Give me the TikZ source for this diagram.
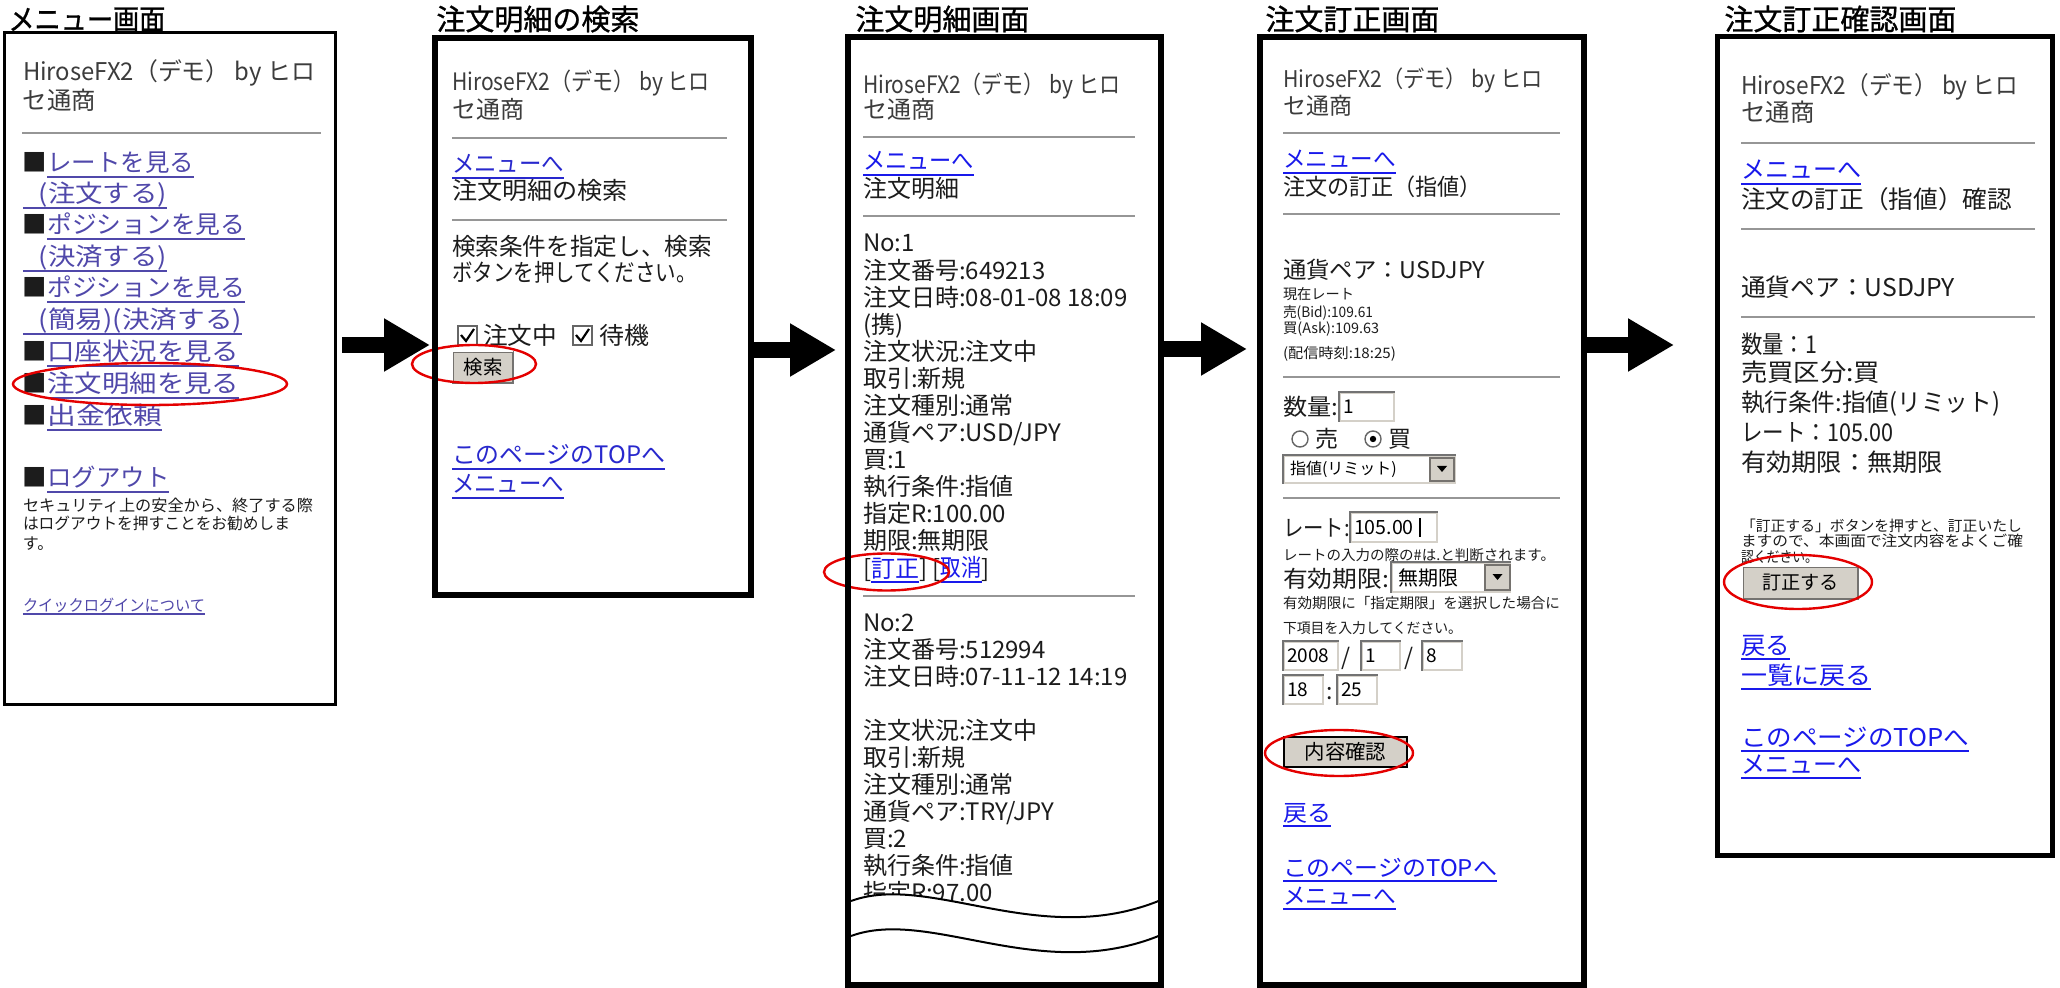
\documentclass[tikz,border=0pt]{standalone}
\usepackage{fontspec}
\setmainfont{Noto Sans CJK JP}
\newfontfamily\ttlfont{Noto Sans CJK JP}[FakeBold=1]
\usepackage{graphicx}
\usetikzlibrary{arrows.meta}
\definecolor{txt}{RGB}{28,28,28}
\definecolor{hdr}{RGB}{60,60,60}
\definecolor{lnkv}{RGB}{80,72,170}
\definecolor{lnk}{RGB}{25,25,235}
\definecolor{lnkb}{RGB}{40,40,205}
\definecolor{hrc}{RGB}{150,150,150}
\definecolor{btnc}{RGB}{212,208,200}
\definecolor{ovlc}{RGB}{228,0,0}
\newcommand\fw[2]{\resizebox{#1}{\height}{#2}}
\newcommand\lk[3]{{\color{#1}\rlap{\rule[-0.24em]{#2}{1pt}}\resizebox{#2}{\height}{#3}}}
\tikzset{
 tx/.style={anchor=base west, inner sep=0pt, outer sep=0pt, text=txt},
 ttl/.style={anchor=base west, inner sep=0pt, text=black, font=\ttlfont\fontsize{14.5pt}{16pt}\selectfont},
 fa/.style={font=\fontsize{12.2pt}{14pt}\selectfont},
 fas/.style={font=\fontsize{8pt}{9pt}\selectfont},
 fb/.style={font=\fontsize{12pt}{14pt}\selectfont},
 fc/.style={font=\fontsize{11.5pt}{13pt}\selectfont},
 fcs/.style={font=\fontsize{7.2pt}{8pt}\selectfont},
 fd/.style={font=\fontsize{12.25pt}{14pt}\selectfont},
 fds/.style={font=\fontsize{7.4pt}{8pt}\selectfont},
 hr/.style={draw=hrc, line width=1.25pt},
 ovl/.style={draw=ovlc, line width=1.2pt},
 panel/.style={draw=black, inner sep=0pt, outer sep=0pt},
 blk/.style={draw=black, line width=8pt, -{Triangle[length=23pt,width=25pt]}},
 btn/.style={fill=btnc, draw=btnc!55!black, line width=0.6pt, inner sep=0pt, text=black},
 inp/.style={fill=white, draw=btnc, line width=0.8pt, inner xsep=1.5pt, inner ysep=0pt, align=left, text=black, font=\fontsize{9.5pt}{10pt}\selectfont},
 bev/.style={draw=gray!90!black, line width=0.8pt},
 lite/.style={draw=white, line width=0.8pt},
 cbx/.style={draw=gray!80!black, fill=white, minimum size=9.5pt, inner sep=0pt, line width=0.8pt},
 radio/.style={circle, draw=gray!80!black, fill=white, minimum size=8pt, inner sep=0pt, line width=0.7pt},
 wv/.style={draw=black, line width=1pt},
}
\begin{document}
\begin{tikzpicture}[x=0.5pt,y=-0.5pt]
\useasboundingbox (0,0) rectangle (2060,988);
\fill[white] (0,0) rectangle (2060,988);

% ---------- titles
\node[ttl] (t1) at (8,30) {\fw{78.5pt}{メニュー画面}};
\node[ttl] (t2) at (436,30) {注文明細の検索};
\node[ttl] (t3) at (855,30) {注文明細画面};
\node[ttl] (t4) at (1265,30) {注文訂正画面};
\node[ttl] (t5) at (1724,30) {注文訂正確認画面};

% ---------- panel 1
\node[tx,fa,text=hdr] (p1h1) at (23,81) {\fw{146pt}{HiroseFX2（デモ） by ヒロ}};
\node[tx,fa,text=hdr] (p1h2) at (23,110) {セ通商};
\draw[hr] (22,133) -- (321,133);
\node[tx,fa] (p1m1) at (23,172) {■\lk{lnkv}{73.5pt}{レートを見る}};
\node[tx,fa] (p1m2) at (23,203) {\lk{lnkv}{72pt}{\hspace{7pt}(注文する)}};
\node[tx,fa] (p1m3) at (23,234) {■\lk{lnkv}{99pt}{ポジションを見る}};
\node[tx,fa] (p1m4) at (23,266) {\lk{lnkv}{72pt}{\hspace{7pt}(決済する)}};
\node[tx,fa] (p1m5) at (23,297) {■\lk{lnkv}{99pt}{ポジションを見る}};
\node[tx,fa] (p1m6) at (23,329) {\lk{lnkv}{109.5pt}{\hspace{7pt}(簡易)(決済する)}};
\node[tx,fa] (p1m7) at (23,361) {■\lk{lnkv}{96pt}{口座状況を見る}};
\node[tx,fa] (p1m8) at (23,393) {■\lk{lnkv}{96pt}{注文明細を見る}};
\node[tx,fa] (p1m9) at (23,425) {■\lk{lnkv}{57.5pt}{出金依頼}};
\node[tx,fa] (p1m10) at (23,487) {■\lk{lnkv}{61pt}{ログアウト}};
\node[tx,fas] (p1s1) at (23,512) {\fw{145pt}{セキュリティ上の安全から、終了する際}};
\node[tx,fas] (p1s2) at (23,530) {\fw{133.5pt}{はログアウトを押すことをお勧めしま}};
\node[tx,fas] (p1s3) at (23,549) {す。};
\node[tx,fas] (p1s4) at (23,611) {\lk{lnkv}{91pt}{クイックログインについて}};
\draw[ovl] (150,384) ellipse [x radius=68.5pt, y radius=10.5pt];

% ---------- panel 2
\node[tx,fb,text=hdr] (p2h1) at (452,91) {\fw{129pt}{HiroseFX2（デモ） by ヒロ}};
\node[tx,fb,text=hdr] (p2h2) at (452,119) {セ通商};
\draw[hr] (452,138) -- (727,138);
\node[tx,fb] (p2l1) at (452,173) {\lk{lnkb}{56pt}{メニューへ}};
\node[tx,fb] (p2l2) at (452,200) {\fw{88pt}{注文明細の検索}};
\draw[hr] (452,220) -- (727,220);
\node[tx,fb] (p2l3) at (452,256) {\fw{130pt}{検索条件を指定し、検索}};
\node[tx,fb] (p2l4) at (452,282) {\fw{122.5pt}{ボタンを押してください。}};
\node[cbx] (p2c1) at (467.5,335.5) {};
\draw[line width=1.1pt] (461,335) -- (466,341) -- (474,329);
\node[tx,fb] (p2c1t) at (483,345) {\fw{37pt}{注文中}};
\node[cbx] (p2c2) at (582.5,335.5) {};
\draw[line width=1.1pt] (576,335) -- (581,341) -- (589,329);
\node[tx,fb] (p2c2t) at (599,345) {\fw{25pt}{待機}};
\node[btn, minimum width=30pt, minimum height=15.5pt, font=\fontsize{9.7pt}{10pt}\selectfont] (p2b) at (483,367.5) {検索};
\draw[lite] (p2b.south west) -- (p2b.north west) -- (p2b.north east);
\draw[bev] (p2b.south west) -- (p2b.south east) -- (p2b.north east);
\draw[ovl] (474,364) ellipse [x radius=31pt, y radius=9.5pt];
\node[tx,fb] (p2l5) at (452,464) {\lk{lnkb}{106.5pt}{このページのTOPへ}};
\node[tx,fb] (p2l6) at (452,493) {\lk{lnkb}{56pt}{メニューへ}};

% ---------- panel 3
\node[tx,fb,text=hdr] (p3h1) at (863,94) {\fw{128.5pt}{HiroseFX2（デモ） by ヒロ}};
\node[tx,fb,text=hdr] (p3h2) at (863,119) {セ通商};
\draw[hr] (863,137) -- (1135,137);
\node[tx,fb] (p3l1) at (863,170) {\lk{lnk}{55.5pt}{メニューへ}};
\node[tx,fb] (p3l2) at (863,198) {注文明細};
\draw[hr] (863,216) -- (1135,216);
\foreach \t [count=\i] in {No:1,注文番号:649213,注文日時:08-01-08 18:09,(携),注文状況:注文中,取引:新規,注文種別:通常,通貨ペア:USD/JPY,買:1,執行条件:指値,指定R:100.00,期限:無期限}
  \node[tx,fb] (p3a\i) at (863,{252+27.08*(\i-1)}) {\t};
\node[tx,fb] (p3a13) at (863,577) {[\lk{lnk}{24pt}{訂正}] [\lk{lnk}{20.5pt}{取消}]};
\draw[ovl] (886.5,572) ellipse [x radius=31.25pt, y radius=9.25pt];
\draw[hr] (863,596) -- (1135,596);
\foreach \t [count=\i] in {No:2,注文番号:512994,注文日時:07-11-12 14:19}
  \node[tx,fb] (p3b\i) at (863,{631+27*(\i-1)}) {\t};
\foreach \t [count=\i] in {注文状況:注文中,取引:新規,注文種別:通常,通貨ペア:TRY/JPY,買:2,執行条件:指値,指定R:97.00}
  \node[tx,fb] (p3c\i) at (863,{739+27*(\i-1)}) {\t};
\fill[white] (851,901) .. controls (930,872) and (1040,950) .. (1161,900) -- (1161,935) .. controls (1040,985) and (930,907) .. (851,936) -- cycle;
\fill[white] (851,936) rectangle (1161,988);
\draw[wv] (851,901) .. controls (930,872) and (1040,950) .. (1161,900);
\draw[wv] (851,936) .. controls (930,907) and (1040,985) .. (1161,935);

% ---------- panel 4
\node[tx,fc,text=hdr] (p4h1) at (1283,88) {\fw{130pt}{HiroseFX2（デモ） by ヒロ}};
\node[tx,fc,text=hdr] (p4h2) at (1283,115) {セ通商};
\draw[hr] (1283,133) -- (1560,133);
\node[tx,fc] (p4l1) at (1283,168) {\lk{lnk}{56.5pt}{メニューへ}};
\node[tx,fc] (p4l2) at (1283,196) {\fw{99.5pt}{注文の訂正（指値）}};
\draw[hr] (1283,214) -- (1560,214);
\node[tx,fc] (p4l3) at (1283,279) {\fw{101pt}{通貨ペア：USDJPY}};
\node[tx,fcs] (p4s1) at (1283,299.5) {\fw{35.5pt}{現在レート}};
\node[tx,fcs] (p4s2) at (1283,317.5) {\fw{45pt}{売(Bid):109.61}};
\node[tx,fcs] (p4s3) at (1283,333.5) {\fw{48pt}{買(Ask):109.63}};
\node[tx,fcs] (p4s4) at (1283,358.5) {\fw{56.5pt}{(配信時刻:18:25)}};
\draw[hr] (1283,377) -- (1560,377);
\node[tx,fc] (p4l4) at (1283,416) {\fw{27.5pt}{数量:}};
\node[inp, text width=24pt, minimum height=14pt] (p4i1) at (1367,407) {1};
\draw[bev] (p4i1.south west) -- (p4i1.north west) -- (p4i1.north east);
\node[radio] (p4r1) at (1300,439) {};
\node[tx,fc] (p4r1t) at (1315,448) {売};
\node[radio] (p4r2) at (1373,439) {};
\fill (p4r2.center) circle (1.6pt);
\node[tx,fc] (p4r2t) at (1388,448) {買};
\node[inp, text width=79.5pt, inner xsep=3pt, minimum height=13.5pt, font=\fontsize{8pt}{9pt}\selectfont] (p4sel1) at (1369.5,469.5) {指値(リミット)};
\draw[bev] (p4sel1.south west) -- (p4sel1.north west) -- (p4sel1.north east);
\node[btn, minimum width=12pt, minimum height=11.5pt] (p4sb1) at (1442,469.5) {};
\fill (1437,466) -- (1447,466) -- (1442,472) -- cycle;
\draw[hr] (1283,498) -- (1560,498);
\node[tx,fc] (p4l5) at (1283,537) {\fw{33.5pt}{レート:}};
\node[inp, text width=40pt, minimum height=14.5pt, font=\fontsize{9.8pt}{11pt}\selectfont] (p4i2) at (1394,527.5) {105.00};
\draw[bev] (p4i2.south west) -- (p4i2.north west) -- (p4i2.north east);
\draw[line width=0.6pt] (1420,518) -- (1420,537);
\node[tx,fcs] (p4s5) at (1283,560.5) {\fw{136pt}{レートの入力の際の\#は.と判断されます。}};
\node[tx,fc] (p4l6) at (1283,587) {\fw{53pt}{有効期限:}};
\node[inp, text width=53pt, inner xsep=3pt, minimum height=14.5pt, font=\fontsize{10pt}{11pt}\selectfont] (p4sel2) at (1451,577.5) {無期限};
\draw[bev] (p4sel2.south west) -- (p4sel2.north west) -- (p4sel2.north east);
\node[btn, minimum width=12.5pt, minimum height=12.5pt] (p4sb2) at (1497.5,577.5) {};
\fill (1492.5,574) -- (1502.5,574) -- (1497.5,580) -- cycle;
\node[tx,fcs] (p4s6) at (1283,608.5) {\fw{138.5pt}{有効期限に「指定期限」を選択した場合に}};
\node[tx,fcs] (p4s7) at (1283,633.5) {\fw{89.5pt}{下項目を入力してください。}};
\node[inp, text width=24pt, minimum height=14pt] (p4d1) at (1311,656) {2008};
\node[tx,fc] (p4d1s) at (1341,665) {/};
\node[inp, text width=16pt, minimum height=14pt] (p4d2) at (1381,656) {1};
\node[tx,fc] (p4d2s) at (1404,665) {/};
\node[inp, text width=16.5pt, minimum height=14pt] (p4d3) at (1442.5,656) {8};
\node[inp, text width=16.5pt, minimum height=14pt] (p4d4) at (1303.5,690) {18};
\node[tx,fc] (p4d4s) at (1326,699) {:};
\node[inp, text width=16.5pt, minimum height=14pt] (p4d5) at (1357.5,690) {25};
\foreach \b in {p4d1,p4d2,p4d3,p4d4,p4d5}
  \draw[bev] (\b.south west) -- (\b.north west) -- (\b.north east);
\node[btn, draw=black, line width=0.9pt, minimum width=61.5pt, minimum height=15pt, font=\fontsize{10.2pt}{11pt}\selectfont] (p4b) at (1345.5,752) {内容確認};
\draw[ovl] (1339,753) ellipse [x radius=37pt, y radius=11.5pt];
\node[tx,fc] (p4l7) at (1283,821) {\lk{lnk}{24pt}{戻る}};
\node[tx,fc] (p4l8) at (1283,876) {\lk{lnk}{107pt}{このページのTOPへ}};
\node[tx,fc] (p4l9) at (1283,904) {\lk{lnk}{56.5pt}{メニューへ}};

% ---------- panel 5
\node[tx,fd,text=hdr] (p5h1) at (1741,95) {\fw{138.5pt}{HiroseFX2（デモ） by ヒロ}};
\node[tx,fd,text=hdr] (p5h2) at (1741,122) {セ通商};
\draw[hr] (1741,143) -- (2035,143);
\node[tx,fd] (p5l1) at (1741,179) {\lk{lnk}{60pt}{メニューへ}};
\node[tx,fd] (p5l2) at (1741,209) {\fw{135.5pt}{注文の訂正（指値）確認}};
\draw[hr] (1741,229) -- (2035,229);
\node[tx,fd] (p5l3) at (1741,297) {\fw{107pt}{通貨ペア：USDJPY}};
\draw[hr] (1741,317) -- (2035,317);
\node[tx,fd] (p5l4) at (1741,354) {\fw{38pt}{数量：1}};
\node[tx,fd] (p5l5) at (1741,382) {\fw{69.5pt}{売買区分:買}};
\node[tx,fd] (p5l6) at (1741,412) {\fw{129.5pt}{執行条件:指値(リミット)}};
\node[tx,fd] (p5l7) at (1741,442) {\fw{76pt}{レート：105.00}};
\node[tx,fd] (p5l8) at (1741,472) {\fw{101pt}{有効期限：無期限}};
\node[tx,fds] (p5s1) at (1741,532) {\fw{140.5pt}{「訂正する」ボタンを押すと、訂正いたし}};
\node[tx,fds] (p5s2) at (1741,547) {\fw{141pt}{ますので、本画面で注文内容をよくご確}};
\node[tx,fds] (p5s3) at (1741,562) {\fw{38.5pt}{認ください。}};
\node[btn, minimum width=57.5pt, minimum height=16pt, font=\fontsize{9.6pt}{10pt}\selectfont] (p5b) at (1800.5,583) {訂正する};
\draw[lite] (p5b.south west) -- (p5b.north west) -- (p5b.north east);
\draw[bev] (p5b.south west) -- (p5b.south east) -- (p5b.north east);
\draw[ovl] (1798,582) ellipse [x radius=37pt, y radius=13.5pt];
\node[tx,fd] (p5l9) at (1741,654) {\lk{lnk}{24.5pt}{戻る}};
\node[tx,fd] (p5l10) at (1741,684) {\lk{lnk}{65pt}{一覧に戻る}};
\node[tx,fd] (p5l11) at (1741,746) {\lk{lnk}{114pt}{このページのTOPへ}};
\node[tx,fd] (p5l12) at (1741,773) {\lk{lnk}{60pt}{メニューへ}};

% ---------- panel frames
\node[panel, line width=1.5pt, minimum width=165.5pt, minimum height=336pt] (p1) at (170,368.5) {};
\node[panel, line width=3pt, minimum width=158pt, minimum height=278.25pt] (p2) at (592.5,316.25) {};
\node[panel, line width=3pt, minimum width=156.5pt, minimum height=474pt] (p3) at (1004.5,511) {};
\node[panel, line width=3pt, minimum width=162pt, minimum height=474pt] (p4) at (1422,511) {};
\node[panel, line width=2.5pt, minimum width=167.5pt, minimum height=409.5pt] (p5) at (1885,446) {};

% ---------- arrows
\coordinate (a1s) at (342,345); \coordinate (a1e) at (430,345);
\coordinate (a2s) at (751,350); \coordinate (a2e) at (836,350);
\coordinate (a3s) at (1162,349); \coordinate (a3e) at (1247,349);
\coordinate (a4s) at (1586,345); \coordinate (a4e) at (1674,345);
\draw[blk] (a1s) -- (a1e);
\draw[blk] (a2s) -- (a2e);
\draw[blk] (a3s) -- (a3e);
\draw[blk] (a4s) -- (a4e);
\end{tikzpicture}
\end{document}
